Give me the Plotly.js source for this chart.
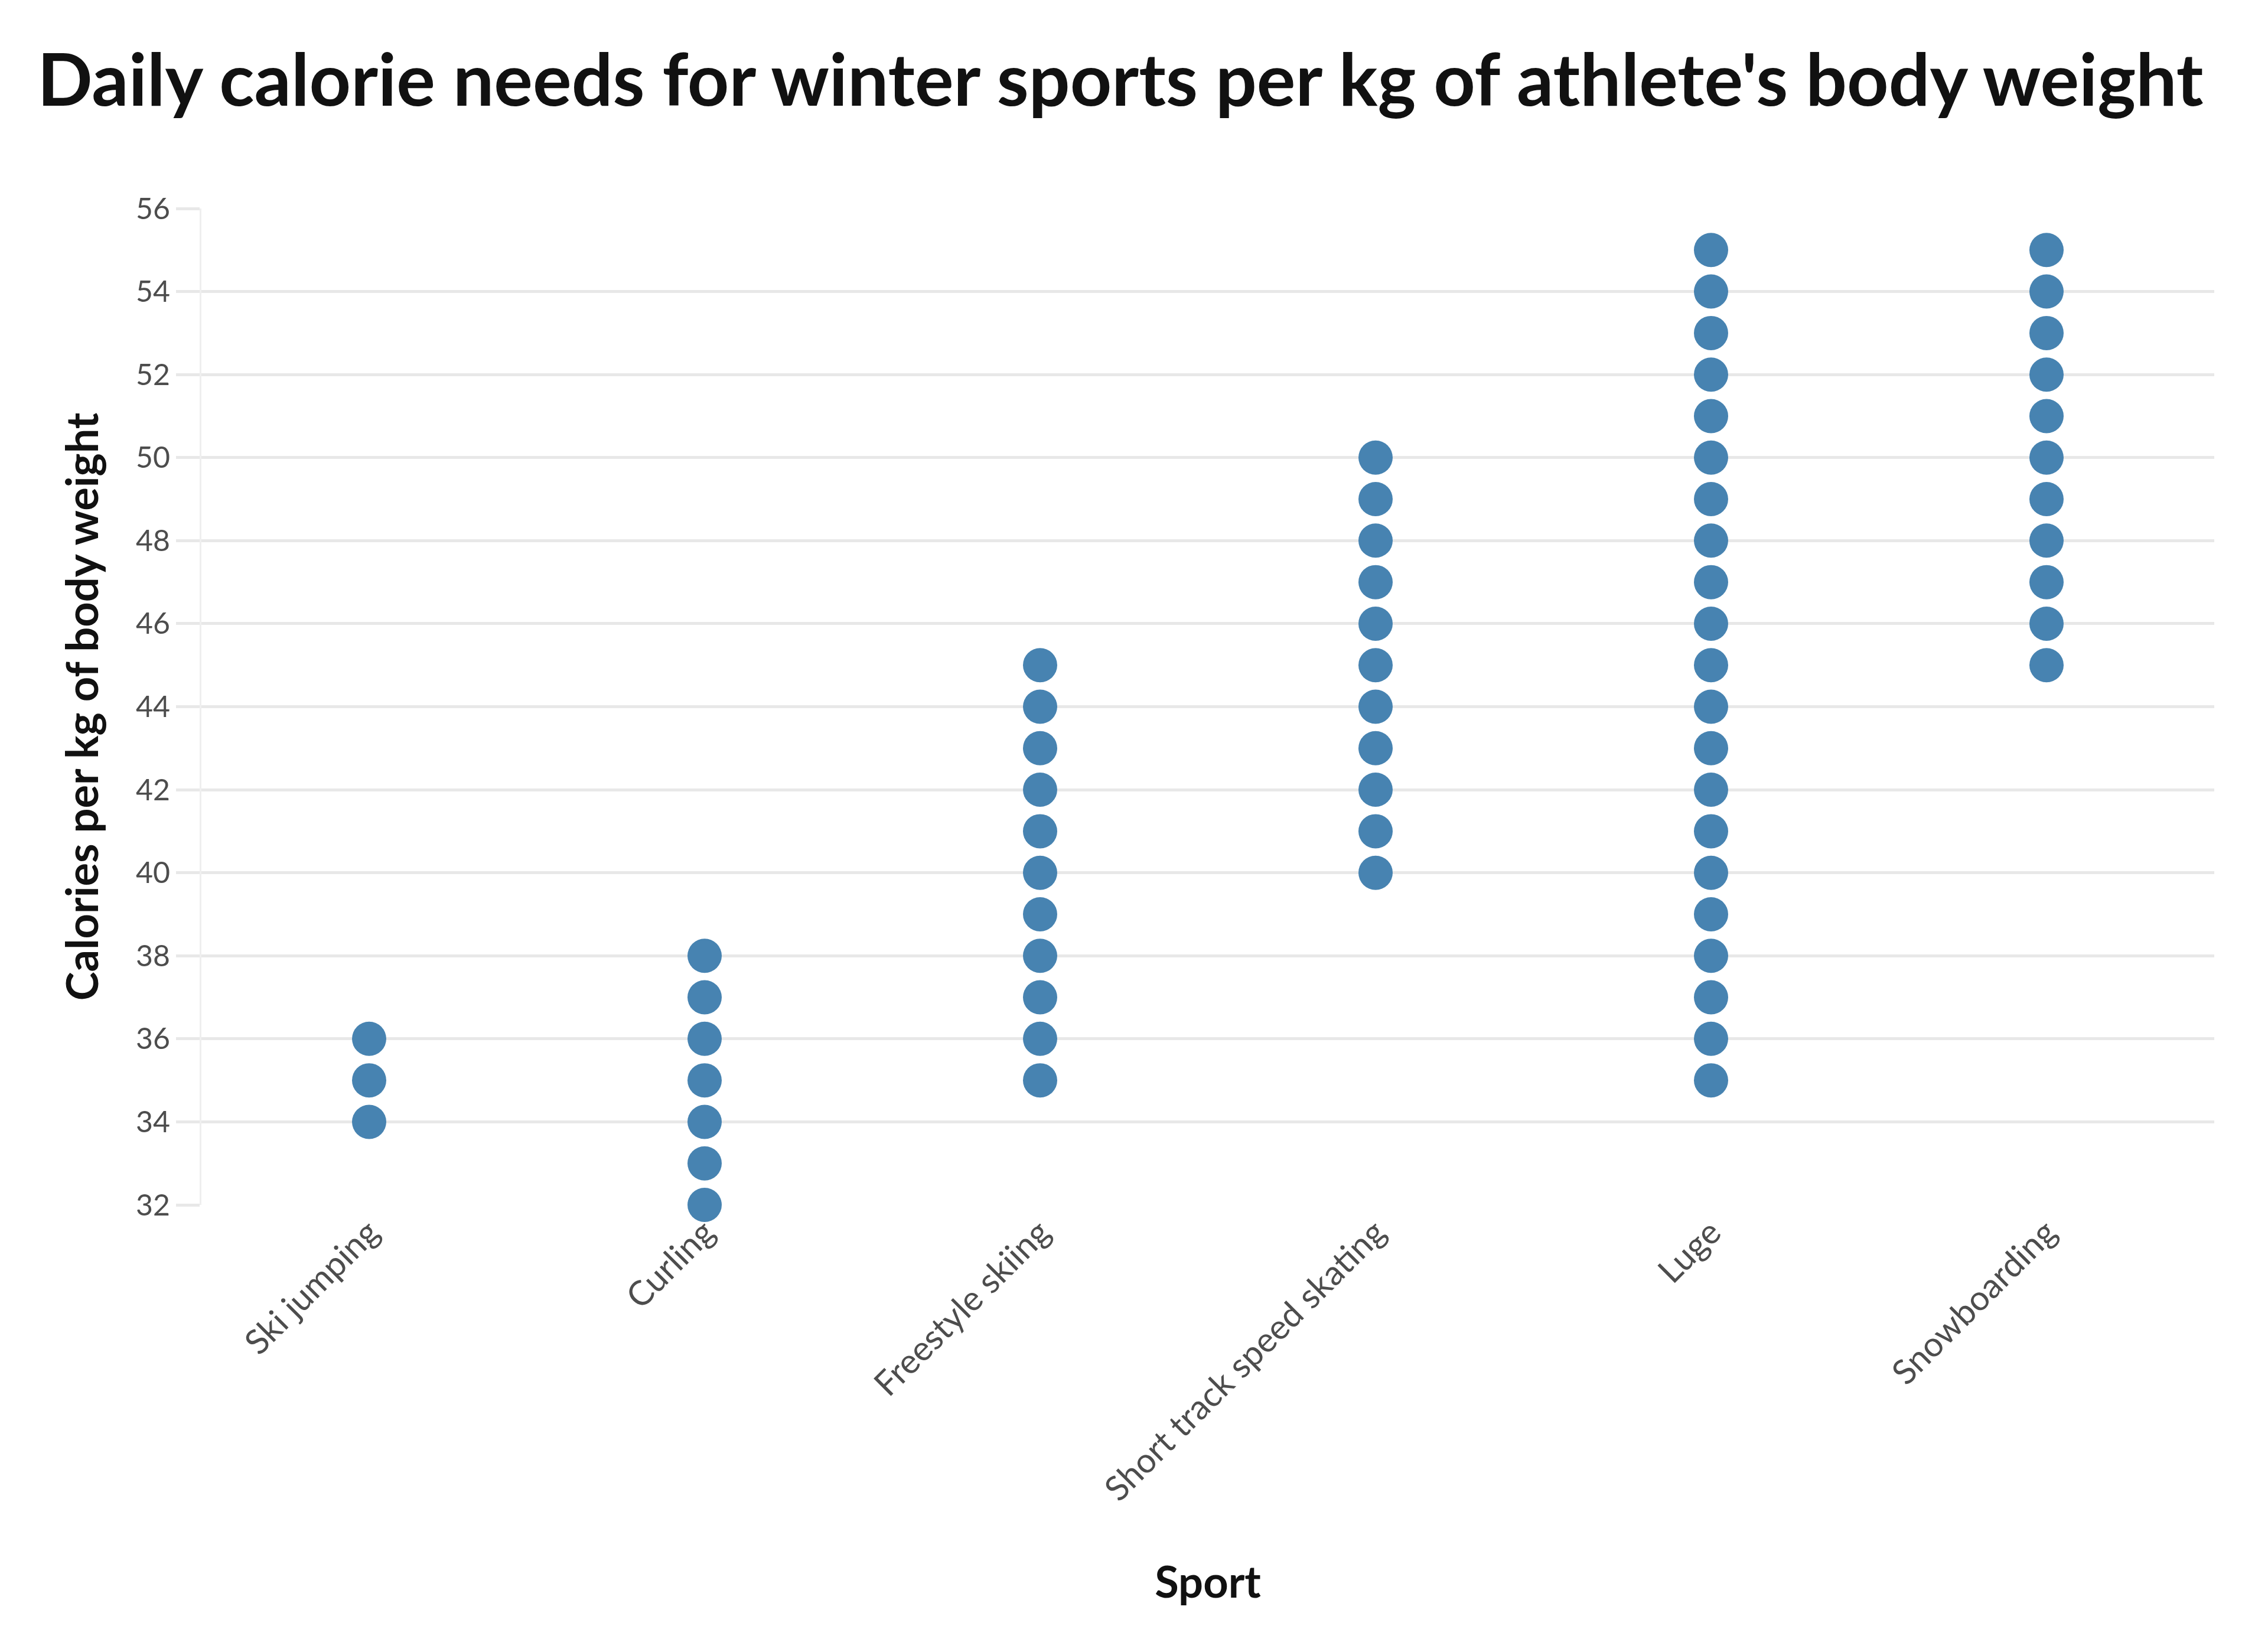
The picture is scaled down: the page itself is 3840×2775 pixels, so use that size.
<!DOCTYPE html>
<html>
<head>
<meta charset="utf-8">
<script src="https://cdn.plot.ly/plotly-3.0.1.min.js"></script>
<style>
  html, body { margin: 0; padding: 0; background: #fff; }
  #chart { width: 3840px; height: 2775px; }
</style>
</head>
<body>
<div id="chart"></div>
<script>
const sports = ['Ski jumping', 'Curling', 'Freestyle skiing', 'Short track speed skating', 'Luge', 'Snowboarding'];

// calories per kg, one dot per value
const skiJumping = [34, 35, 36];
const curling = [32, 33, 34, 35, 36, 37, 38];
const freestyleSkiing = [35, 36, 37, 38, 39, 40, 41, 42, 43, 44, 45];
const shortTrack = [40, 41, 42, 43, 44, 45, 46, 47, 48, 49, 50];
const luge = [35, 36, 37, 38, 39, 40, 41, 42, 43, 44, 45, 46, 47, 48, 49, 50, 51, 52, 53, 54, 55];
const snowboarding = [45, 46, 47, 48, 49, 50, 51, 52, 53, 54, 55];

function main() {
    const groups = [skiJumping, curling, freestyleSkiing, shortTrack, luge, snowboarding];
    var xs = [], ys = [];
    groups.forEach((vals, i) => {
        vals.forEach(v => {
            xs.push(sports[i]);
            ys.push(v);
        });
    });

    var data = [{
        x: xs,
        y: ys,
        type: 'scatter',
        mode: 'markers',
        cliponaxis: false,
        marker: { color: '#4783b1', size: 58, line: { width: 0 } },
        hoverinfo: 'x+y'
    }];

    const gridCol = '#e8e8e8';

    var layout = {
        width: 3840,
        height: 2775,
        paper_bgcolor: '#ffffff',
        plot_bgcolor: '#ffffff',
        showlegend: false,
        font: { family: 'Lato, "Open Sans", sans-serif', color: '#4d4d4d' },
        margin: { l: 341, r: 91, t: 353, b: 735 },
        title: {
            text: "Daily calorie needs for winter sports per kg of athlete's body weight",
            font: { family: 'Lato, "Open Sans", sans-serif', size: 123, color: '#111111', weight: 'bold' },
            x: 0.494,
            xref: 'container',
            xanchor: 'center',
            y: 0.951,
            yref: 'container',
            yanchor: 'middle'
        },
        xaxis: {
            type: 'category',
            categoryorder: 'array',
            categoryarray: sports,
            range: [-0.5, 5.5],
            showgrid: false,
            zeroline: false,
            showline: false,
            ticks: '',
            tickangle: -45,
            tickfont: { size: 58, color: '#4d4d4d' },
            automargin: false,
            title: {
                text: 'Sport',
                font: { size: 74, color: '#111111', weight: 'bold' },
                standoff: 100
            }
        },
        yaxis: {
            range: [32, 56],
            dtick: 2,
            tick0: 32,
            showgrid: true,
            gridcolor: gridCol,
            gridwidth: 5,
            zeroline: false,
            showline: true,
            linecolor: '#efefef',
            linewidth: 3,
            ticks: 'outside',
            ticklen: 40,
            tickwidth: 5,
            tickcolor: gridCol,
            tickfont: { size: 50, color: '#4d4d4d' },
            automargin: false,
            title: {
                text: 'Calories per kg of body weight',
                font: { size: 74, color: '#111111', weight: 'bold' },
                standoff: 40
            }
        }
    };

    Plotly.newPlot('chart', data, layout, { displayModeBar: false, staticPlot: true });
}
main();
</script>
</body>
</html>
